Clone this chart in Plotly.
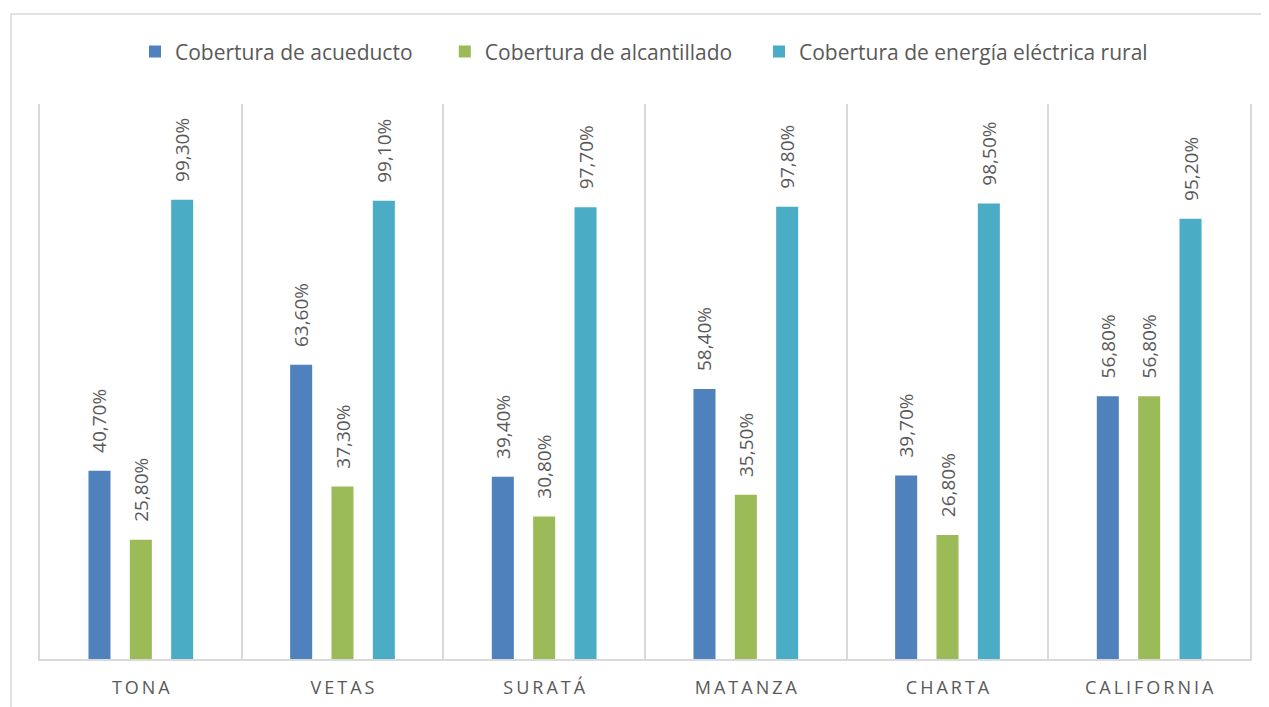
import plotly.graph_objects as go

categories = ["TONA", "VETAS", "SURATÁ", "MATANZA", "CHARTA", "CALIFORNIA"]
acueducto = [40.7, 63.6, 39.4, 58.4, 39.7, 56.8]
alcantillado = [25.8, 37.3, 30.8, 35.5, 26.8, 56.8]
energia = [99.3, 99.1, 97.7, 97.8, 98.5, 95.2]
series_names = ["Cobertura de acueducto", "Cobertura de alcantillado",
                "Cobertura de energía eléctrica rural"]
colors = ["#4F81BD", "#9BBB59", "#4BACC6"]

NB = "\u00a0"

def fmt(v):
    # leading no-break spaces give the gap between bar top and rotated label
    return NB * 3 + f"{v:.2f}".replace(".", ",") + "%"

tick_text = ["\u2009".join(list(c)) for c in categories]
legend_names = [series_names[0] + NB * 5, series_names[1] + NB * 4, series_names[2]]

FONT = "Open Sans"
GREY = "#595959"

fig = go.Figure()
for name, vals, col in zip(legend_names, [acueducto, alcantillado, energia], colors):
    fig.add_trace(go.Bar(
        name=name, x=categories, y=vals, marker_color=col,
        marker_line_width=0,
        text=[fmt(v) for v in vals], textposition="outside", textangle=-90,
        constraintext="none",
        textfont=dict(family=FONT, size=19, color=GREY),
        cliponaxis=False,
    ))

fig.update_layout(
    width=1261, height=699,
    margin=dict(l=32, r=19, t=96, b=48, autoexpand=False),
    paper_bgcolor="white", plot_bgcolor="white",
    barmode="group", bargap=0.385, bargroupgap=0.467,
    font=dict(family=FONT, color=GREY),
    showlegend=True,
    legend=dict(orientation="h", x=0.0785, xanchor="left", y=1.094, yanchor="middle",
                font=dict(family=FONT, size=21, color=GREY)),
    xaxis=dict(type="category", tickson="boundaries", showgrid=True, automargin=False,
               gridcolor="#D9D9D9", gridwidth=1.5, ticks="",
               showline=True, linecolor="#D9D9D9", linewidth=2,
               tickmode="array", tickvals=categories, ticktext=tick_text,
               ticklabelstandoff=11,
               tickfont=dict(family=FONT, size=18, color=GREY)),
    yaxis=dict(range=[0, 120], showgrid=False, showticklabels=False, zeroline=False,
               automargin=False,
               showline=True, mirror=True, linecolor="#D9D9D9", linewidth=1.5),
    shapes=[dict(type="rect", xref="paper", yref="paper",
                 x0=-0.024, x1=1.05, y0=-0.2, y1=1.162,
                 line=dict(color="#D9D9D9", width=1.5), fillcolor="rgba(0,0,0,0)",
                 layer="below")],
)

fig.write_html("out.html")
